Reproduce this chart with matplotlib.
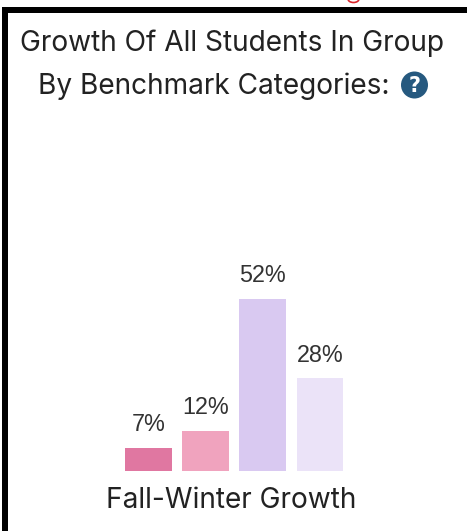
"""Bar chart of fall-winter growth by benchmark category."""

import matplotlib

matplotlib.use("Agg")

import matplotlib.pyplot as plt
from matplotlib.patches import Arc, Circle, Rectangle

WIDTH = 467
HEIGHT = 531

categories = ["Level 1", "Level 2", "Level 3", "Level 4"]
growth_pct = [7, 12, 52, 28]
bar_colors = ["#E077A1", "#F0A3BE", "#D9C9F1", "#EBE3F8"]

INK = "#222222"
HEADING_FONT = ["Inter", "DejaVu Sans"]

fig = plt.figure(figsize=(WIDTH / 100, HEIGHT / 100), dpi=100, facecolor="white")

# Overlay in pixel units for the frame, headings and help icon
page = fig.add_axes([0, 0, 1, 1])
page.set_xlim(0, WIDTH)
page.set_ylim(HEIGHT, 0)
page.axis("off")

page.add_patch(Rectangle((2, 7), WIDTH, 6, color="black", lw=0))
page.add_patch(Rectangle((2, 7), 5.5, HEIGHT, color="black", lw=0))
page.add_patch(Arc((353.5, -1), 11, 7, theta1=0, theta2=180, color="#D9252A", lw=1.2))

page.text(231.5, 43, "Growth Of All Students In Group", ha="center", va="center",
          fontsize=20.2, color=INK, family=HEADING_FONT)
page.text(214, 86, "By Benchmark Categories:", ha="center", va="center",
          fontsize=20.2, color=INK, family=HEADING_FONT)
page.add_patch(Circle((414.5, 85), 13.5, color="#26597F", lw=0))
page.text(414.5, 85.5, "?", ha="center", va="center", fontsize=15,
          fontweight="bold", color="white", family="DejaVu Sans")
page.text(231.5, 501, "Fall-Winter Growth", ha="center", va="center",
          fontsize=20.2, color=INK, family=HEADING_FONT)

# Bar panel: 57 px per category, baseline at y=471
ax = fig.add_axes([120 / WIDTH, (HEIGHT - 471) / HEIGHT, 228.5 / WIDTH, 198.6 / HEIGHT])
ax.patch.set_alpha(0)
positions = range(len(categories))
bars = ax.bar(positions, growth_pct, width=0.82, color=bar_colors, linewidth=0)
ax.bar_label(bars, labels=[f"{v}%" for v in growth_pct], padding=8.5, fontsize=16.8,
             color="#333333", family="Liberation Sans")
ax.set_xlim(-0.5, 3.5)
ax.set_ylim(0, 60)
ax.axis("off")

fig.savefig("out.png", dpi=100)
plt.close(fig)
